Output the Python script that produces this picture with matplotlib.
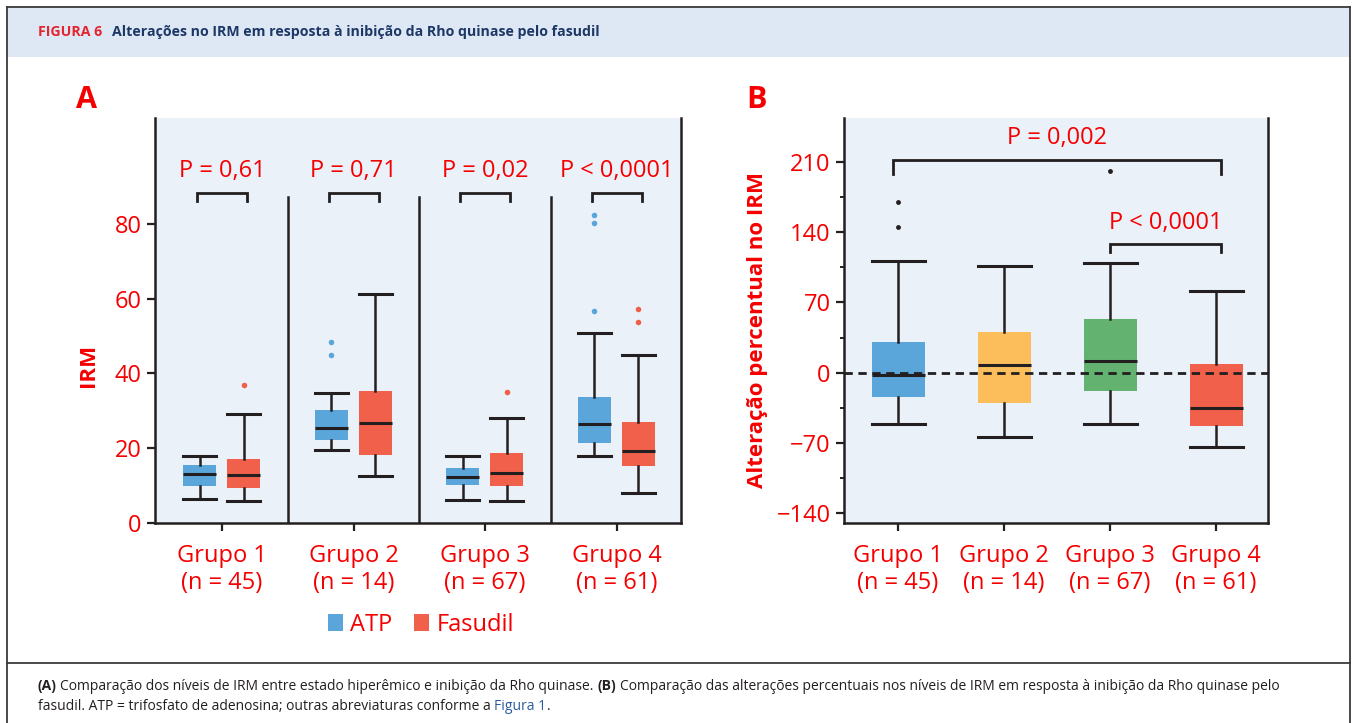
import numpy as np
import matplotlib as mpl
import matplotlib.pyplot as plt
from matplotlib.patches import Rectangle, Patch
from matplotlib.lines import Line2D

plt.rcParams['font.family'] = ['Open Sans', 'Noto Sans', 'DejaVu Sans']

# ---- data ----
grupos = ['Grupo 1\n(n = 45)', 'Grupo 2\n(n = 14)', 'Grupo 3\n(n = 67)', 'Grupo 4\n(n = 61)']

# Panel A: IRM, ATP vs Fasudil
atp_lo  = [6.3, 19.4, 6.2, 17.8]
atp_q1  = [9.8, 22.1, 10.1, 21.3]
atp_med = [13.0, 25.4, 12.2, 26.4]
atp_q3  = [15.6, 30.3, 14.8, 33.8]
atp_hi  = [18.0, 34.7, 17.8, 50.8]
atp_out = [[], [45.0, 48.3], [], [56.6, 80.3, 82.4]]

fas_lo  = [5.8, 12.6, 6.0, 7.9]
fas_q1  = [9.3, 18.1, 9.8, 15.2]
fas_med = [12.8, 26.7, 13.3, 19.2]
fas_q3  = [17.2, 35.4, 18.8, 27.1]
fas_hi  = [29.2, 61.3, 28.0, 44.9]
fas_out = [[36.8], [], [35.0], [53.7, 57.2]]

pA = ['P = 0,61', 'P = 0,71', 'P = 0,02', 'P < 0,0001']

# Panel B: percent change
pct_lo  = [-51.4, -64.0, -51.4, -74.5]
pct_q1  = [-24.7, -30.0, -18.0, -52.8]
pct_med = [-2.7, 8.0, 12.0, -35.7]
pct_q3  = [31.0, 41.0, 53.0, 9.0]
pct_hi  = [111.0, 106.0, 109.0, 81.5]
pct_out = [[145.6, 170.0], [], [201.0], []]
pB = ['P = 0,002', 'P < 0,0001']

# ---- style ----
W, H = 1353, 723
red = '#f50000'
ink = '#231f20'
c_atp = '#5aa5da'
c_fas = '#f1604a'
colsB = ['#5aa5da', '#fbbe5b', '#63b270', '#f1604a']
axbg = '#eaf1f9'
fs = 17

def fx(x): return x/W
def fy(y): return 1-y/H

fig = plt.figure(figsize=(W/100, H/100), dpi=100)

# frame + header band
fig.add_artist(Rectangle((fx(7), fy(57)), fx(1350)-fx(7), fy(7)-fy(57), transform=fig.transFigure,
                         facecolor='#dde8f4', edgecolor='none', zorder=0))
for xs, ys in [([7, 7], [7, 723]), ([1350, 1350], [7, 723]), ([7, 1350], [7, 7]), ([7, 1350], [663, 663])]:
    fig.add_artist(Line2D([fx(v) for v in xs], [fy(v) for v in ys], transform=fig.transFigure,
                          color='#3a3a3a', lw=1.3))

rend = fig.canvas.get_renderer()

def runs(x, y, parts, size):
    sp = fig.text(0, 0, 'a a', fontsize=size); sp2 = fig.text(0, 0, 'aa', fontsize=size)
    spw = sp.get_window_extent(rend).width - sp2.get_window_extent(rend).width
    sp.remove(); sp2.remove()
    for s, wt, col, gap in parts:
        t = fig.text(fx(x), fy(y), s, fontsize=size, fontweight=wt, color=col, ha='left', va='center')
        x += t.get_window_extent(rend).width + gap*spw

runs(38, 32, [('FIGURA 6', 'bold', '#e32530', 2.6),
              ('Alterações no IRM em resposta à inibição da Rho quinase pelo fasudil', 'bold', '#1d3766', 0)], 10.2)

runs(38, 686, [('(A)', 'bold', ink, 1),
               ('Comparação dos níveis de IRM entre estado hiperêmico e inibição da Rho quinase.', 'normal', ink, 1),
               ('(B)', 'bold', ink, 1),
               ('Comparação das alterações percentuais nos níveis de IRM em resposta à inibição da Rho quinase pelo', 'normal', ink, 0)], 10.0)
runs(38, 706, [('fasudil. ATP = trifosfato de adenosina; outras abreviaturas conforme a', 'normal', ink, 1),
               ('Figura 1', 'normal', '#2b5c9e', 0),
               ('.', 'normal', ink, 0)], 10.0)

def style_ax(ax):
    ax.set_facecolor(axbg)
    ax.spines['top'].set_visible(False)
    for s in ['left', 'right', 'bottom']:
        ax.spines[s].set_linewidth(1.8)
        ax.spines[s].set_color(ink)
    ax.tick_params(axis='both', direction='out', length=6, width=1.6, color=ink,
                   labelsize=fs, labelcolor=red)
    ax.tick_params(axis='x', pad=9)

def stats(lo, q1, med, q3, hi, out):
    return [dict(whislo=a, q1=b, med=c, q3=d, whishi=e, fliers=f)
            for a, b, c, d, e, f in zip(lo, q1, med, q3, hi, out)]

def draw(ax, st, pos, w, col, fcol, ms):
    for s, p, c, fc in zip(st, pos, col, fcol):
        ax.bxp([s], positions=[p], widths=w, capwidths=w, patch_artist=True, manage_ticks=False,
               boxprops=dict(facecolor=c, edgecolor='none'),
               medianprops=dict(color=ink, lw=2.2),
               whiskerprops=dict(color=ink, lw=1.8),
               capprops=dict(color=ink, lw=2.2),
               flierprops=dict(marker='o', markerfacecolor=fc, markeredgecolor='none', markersize=ms))

def bracket(ax, x0, x1, ytop, ybot, txt, ytxt):
    ax.plot([x0, x0, x1, x1], [ybot, ytop, ytop, ybot], color=ink, lw=2, solid_joinstyle='miter')
    ax.text((x0+x1)/2, ytxt, txt, color=red, fontsize=fs, ha='center', va='center')

# ---- Panel A ----
axA = fig.add_axes([fx(155), fy(523), (681-155)/W, (523-118)/H])
style_ax(axA)
x = np.arange(len(grupos))
draw(axA, stats(atp_lo, atp_q1, atp_med, atp_q3, atp_hi, atp_out), x-0.17, 0.25,
     [c_atp]*4, [c_atp]*4, 4)
draw(axA, stats(fas_lo, fas_q1, fas_med, fas_q3, fas_hi, fas_out), x+0.165, 0.25,
     [c_fas]*4, [c_fas]*4, 4)
for d in [0.5, 1.5, 2.5]:
    axA.plot([d, d], [0, 87.2], color=ink, lw=1.8)
for i, t in enumerate(pA):
    bracket(axA, i-0.19, i+0.19, 88.3, 86.0, t, 94.2)
axA.set_xlim(-0.51, 3.49)
axA.set_ylim(0, 108.3)
axA.set_yticks([0, 20, 40, 60, 80])
axA.set_xticks(x)
axA.set_xticklabels(grupos, linespacing=1.2)
axA.set_ylabel('IRM', color=red, fontsize=16, fontweight='bold')
axA.yaxis.set_label_coords(-0.127, 0.39)
axA.yaxis.label.set_verticalalignment('center')
fig.text(fx(87), fy(100), 'A', color=red, fontsize=22, fontweight='bold', ha='center', va='center')

fig.legend(handles=[Patch(facecolor=c_atp, label='ATP'), Patch(facecolor=c_fas, label='Fasudil')],
           loc='center', bbox_to_anchor=(fx(421), fy(625)), ncol=2, frameon=False, fontsize=fs,
           labelcolor=red, handlelength=0.65, handleheight=0.7, handletextpad=0.3, columnspacing=0.9)

# ---- Panel B ----
axB = fig.add_axes([fx(844), fy(523), (1268-844)/W, (523-118)/H])
style_ax(axB)
draw(axB, stats(pct_lo, pct_q1, pct_med, pct_q3, pct_hi, pct_out), x, 0.5,
     colsB, [ink]*4, 3.5)
axB.axhline(0, color=ink, lw=2, ls=(0, (3, 2)), zorder=4)
bracket(axB, -0.045, 3.045, 212.4, 198.4, pB[0], 234)
bracket(axB, 2.0, 3.045, 128.6, 120.0, pB[1], 149.6)
axB.set_xlim(-0.51, 3.49)
axB.set_ylim(-150, 254)
axB.set_yticks([-140, -70, 0, 70, 140, 210])
axB.set_yticks([-105, -35, 35, 105, 175], minor=True)
axB.tick_params(axis='y', which='minor', length=3, width=1.4, color=ink)
axB.set_xticks(x)
axB.set_xticklabels(grupos, linespacing=1.2)
axB.set_ylabel('Alteração percentual no IRM', color=red, fontsize=16, fontweight='bold')
axB.yaxis.set_label_coords(-0.205, 0.477)
axB.yaxis.label.set_verticalalignment('center')
fig.text(fx(757), fy(100), 'B', color=red, fontsize=22, fontweight='bold', ha='center', va='center')

fig.savefig('out.png', dpi=100)
